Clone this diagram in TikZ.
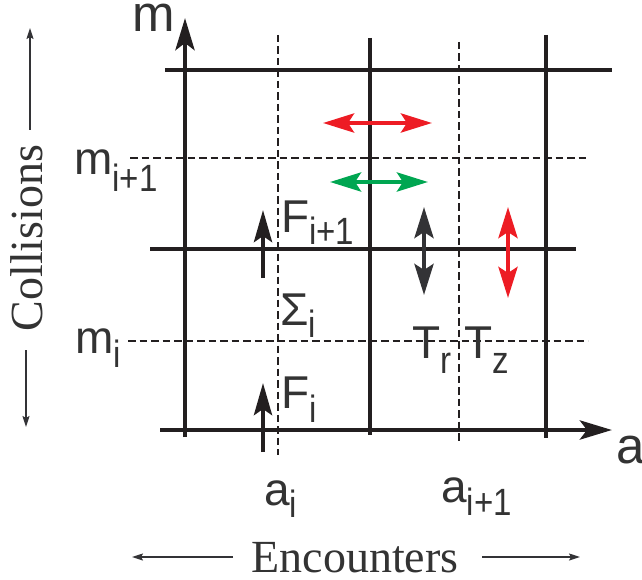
\documentclass[tikz,border=0pt]{standalone}
\usepackage{fontspec}
\setmainfont{Liberation Serif}
\newfontfamily\hv{Liberation Sans}
\usetikzlibrary{arrows.meta}
\definecolor{lk}{HTML}{231F20}
\definecolor{rd}{HTML}{ED1C24}
\definecolor{gn}{HTML}{00A651}
\definecolor{dg}{HTML}{333336}
\definecolor{tx}{HTML}{333333}
\newcommand\sbs[2]{\raisebox{-#1pt}{\scalebox{0.87}[1]{\fontsize{38}{38}\selectfont #2}}}
\begin{document}
\begin{tikzpicture}[x=1pt,y=-1pt,
  thk/.style={line width=4.8pt, draw=lk},
  dsh/.style={line width=1.9pt, draw=lk, dash pattern=on 7.5pt off 4pt},
  axarr/.style={-{Stealth[length=32pt,width=19pt,inset=7pt]}},
  dbl/.style={line width=4.5pt,{Stealth[length=31pt,width=19pt,inset=6pt]}-{Stealth[length=31pt,width=19pt,inset=6pt]}},
  uparr/.style={line width=4.5pt, draw=lk, -{Stealth[length=32pt,width=18pt,inset=6pt]}},
  thinarr/.style={line width=1.6pt, draw=dg, -{Stealth[length=11pt,width=7pt,inset=2pt]}},
  lbl/.style={inner sep=0pt, anchor=base west, text=tx, font=\hv\fontsize{46}{46}\selectfont},
  axlbl/.style={inner sep=0pt, anchor=base west, text=tx, font=\hv\fontsize{51}{51}\selectfont},
  word/.style={inner sep=0pt, anchor=base, text=tx, font=\fontsize{46}{46}\selectfont}
]
\useasboundingbox (0,0) rectangle (642,580);

% dashed grid
\draw[dsh] (278,35) -- (278,455);
\draw[dsh] (459,42) -- (459,443);
\draw[dsh] (130,158) -- (588,158);
\draw[dsh] (128,341) -- (588,341);

% thick grid
\draw[thk] (165,70) -- (612,70);
\draw[thk] (150,249) -- (576,249);
\draw[thk] (370,38) -- (370,435);
\draw[thk] (546,35) -- (546,438);

% axes
\coordinate (mb) at (185,437);
\coordinate (mt) at (185,18);
\coordinate (al) at (160,430);
\coordinate (ar) at (612,430);
\draw[thk,axarr] (mb) -- (mt);
\draw[thk,axarr] (al) -- (ar);

% flux arrows
\coordinate (f1a) at (263,278);
\coordinate (f1b) at (263,210);
\coordinate (f0a) at (263,452);
\coordinate (f0b) at (263,383);
\draw[uparr] (f1a) -- (f1b);
\draw[uparr] (f0a) -- (f0b);

% coloured double arrows
\coordinate (r1) at (323,123);
\coordinate (r2) at (432,123);
\coordinate (g1) at (330,182);
\coordinate (g2) at (428,182);
\coordinate (d1) at (424,207);
\coordinate (d2) at (424,295);
\coordinate (v1) at (508,207);
\coordinate (v2) at (508,298);
\draw[dbl,draw=rd,fill=rd] (r1) -- (r2);
\draw[dbl,draw=gn,fill=gn] (g1) -- (g2);
\draw[dbl,draw=dg,fill=dg] (d1) -- (d2);
\draw[dbl,draw=rd,fill=rd] (v1) -- (v2);

% side arrows
\coordinate (cu1) at (30,130);
\coordinate (cu2) at (30,28);
\coordinate (cd1) at (26,350);
\coordinate (cd2) at (26,427);
\coordinate (el1) at (233,557);
\coordinate (el2) at (132,557);
\coordinate (er1) at (482,557);
\coordinate (er2) at (580,557);
\draw[thinarr] (cu1) -- (cu2);
\draw[thinarr] (cd1) -- (cd2);
\draw[thinarr] (el1) -- (el2);
\draw[thinarr] (er1) -- (er2);

% labels
\node[axlbl] (lm) at (132,32) {m};
\node[axlbl] (la) at (616,463) {a};
\node[lbl] (lmi1) at (74,175) {m\sbs{17}{i+1}};
\node[lbl] (lmi) at (75,353) {m\sbs{14}{i}};
\node[lbl] (lfi1) at (281,232) {F\sbs{13}{i+1}};
\node[lbl] (lsig) at (280,325) {Σ\sbs{12}{i}};
\node[lbl] (lfi) at (281,408) {F\sbs{14}{i}};
\node[lbl] (ltr) at (412,358) {T\sbs{15}{r}};
\node[lbl] (ltz) at (464,358) {T\sbs{15}{z}};
\node[lbl] (lai) at (264,505) {a\sbs{12}{i}};
\node[lbl] (lai1) at (441,502) {a\sbs{13}{i+1}};

\node[word] (enc) at (355,572) {Encounters};
\node[word,rotate=90] (col) at (42,238) {Collisions};
\end{tikzpicture}
\end{document}
